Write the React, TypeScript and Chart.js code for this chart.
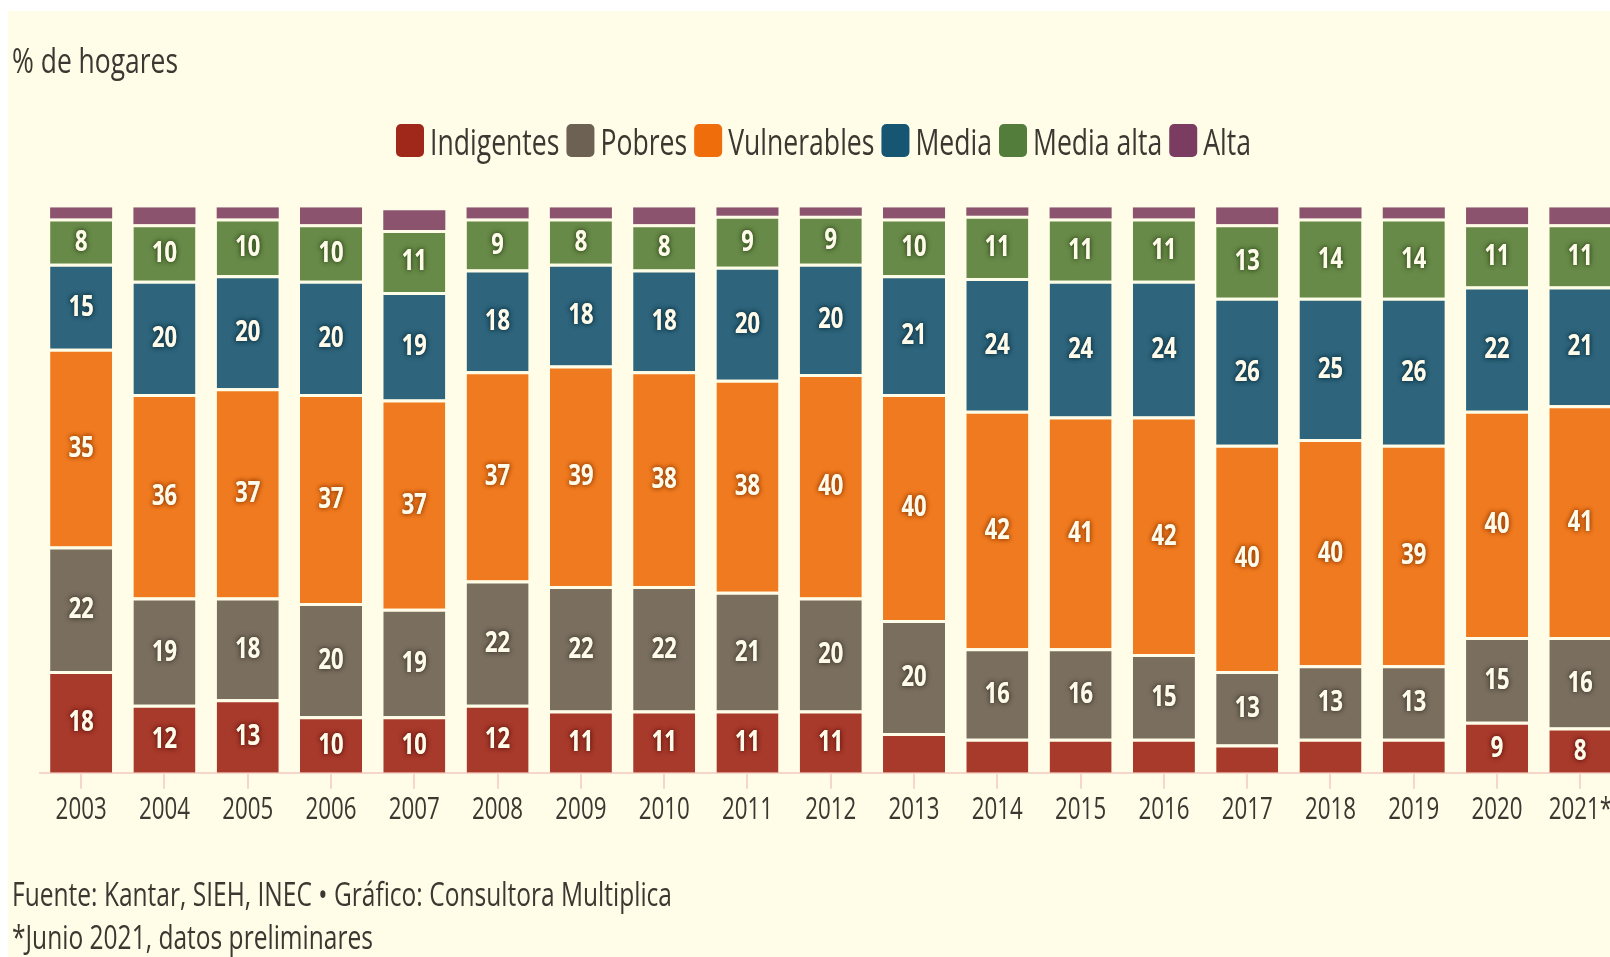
import React, { useEffect, useRef } from 'react';
import { Chart, registerables } from 'chart.js';

Chart.register(...registerables);

// ---------- data ----------
const years = ['2003', '2004', '2005', '2006', '2007', '2008', '2009', '2010', '2011', '2012', '2013', '2014', '2015', '2016', '2017', '2018', '2019', '2020', '2021*'];
const indigentes = [18, 12, 13, 10, 10, 12, 11, 11, 11, 11, 7, 6, 6, 6, 5, 6, 6, 9, 8];
const pobres = [22, 19, 18, 20, 19, 22, 22, 22, 21, 20, 20, 16, 16, 15, 13, 13, 13, 15, 16];
const vulnerables = [35, 36, 37, 37, 37, 37, 39, 38, 37.5, 39.5, 40, 42, 41, 42, 40, 40, 39, 40, 41];
const media = [15, 20, 20, 20, 19, 18, 18, 18, 20, 19.5, 21, 23.5, 24, 24, 26, 25, 26, 22, 21];
const mediaAlta = [8, 10, 10, 10, 11, 9, 8, 8, 9, 8.5, 10, 11, 11, 11, 13, 14, 14, 11, 11];
const alta = [2, 3, 2, 3, 3.5, 2, 2, 3, 1.5, 1.5, 2, 1.5, 2, 2, 3, 2, 2, 3, 3];

const seriesNames = ['Indigentes', 'Pobres', 'Vulnerables', 'Media', 'Media alta', 'Alta'];
const seriesData = [indigentes, pobres, vulnerables, media, mediaAlta, alta];

const titleText = '% de hogares';
const footerLines = [
  'Fuente: Kantar, SIEH, INEC \u2022 Gr\u00e1fico: Consultora Multiplica',
  '*Junio 2021, datos preliminares',
];

// ---------- styles ----------
const BG = '#fffde7';
const FONT = '"Open Sans", "Noto Sans", sans-serif';
const TEXT = '#3b3731';
const barColors = ['#a83a2c', '#7a6f5f', '#f07a1f', '#2e657c', '#688a49', '#8b536e'];
const legendColors = ['#a0281b', '#6c6152', '#ef6d0b', '#175673', '#527d3b', '#7b3c62'];
const haloColors = ['#6a1a10', '#463e34', '#9c4306', '#0f3546', '#36521f', '#4a2038'];
const AXIS = '#f6d6c9';

// horizontal text compression (condensed look)
let squeeze = 0.72;
let rawMeasure: ((t: string) => TextMetrics) | null = null;

function condense(ctx: any) {
  if (ctx.__condensed) return;
  ctx.__condensed = true;
  const fill = ctx.fillText.bind(ctx);
  const stroke = ctx.strokeText.bind(ctx);
  const measure = ctx.measureText.bind(ctx);
  rawMeasure = measure;
  ctx.fillText = (t: string, x: number, y: number, mw?: number) => {
    ctx.save();
    ctx.translate(x, y);
    ctx.scale(squeeze, 1);
    if (mw === undefined || mw === null) fill(t, 0, 0);
    else fill(t, 0, 0, mw / squeeze);
    ctx.restore();
  };
  ctx.strokeText = (t: string, x: number, y: number, mw?: number) => {
    ctx.save();
    ctx.translate(x, y);
    ctx.scale(squeeze, 1);
    if (mw === undefined || mw === null) stroke(t, 0, 0);
    else stroke(t, 0, 0, mw / squeeze);
    ctx.restore();
  };
  ctx.measureText = (t: string) => {
    const m = measure(t);
    return {
      width: m.width * squeeze,
      actualBoundingBoxAscent: m.actualBoundingBoxAscent,
      actualBoundingBoxDescent: m.actualBoundingBoxDescent,
      actualBoundingBoxLeft: m.actualBoundingBoxLeft * squeeze,
      actualBoundingBoxRight: m.actualBoundingBoxRight * squeeze,
      fontBoundingBoxAscent: m.fontBoundingBoxAscent,
      fontBoundingBoxDescent: m.fontBoundingBoxDescent,
    };
  };
}

function natural(ctx: CanvasRenderingContext2D, t: string) {
  return rawMeasure ? rawMeasure(t).width : ctx.measureText(t).width / squeeze;
}

const decorPlugin = {
  id: 'decor',
  afterDatasetsDraw(chart: any) {
    const ctx = chart.ctx;
    ctx.save();
    ctx.font = `bold 28px ${FONT}`;
    ctx.textAlign = 'center';
    ctx.textBaseline = 'middle';
    squeeze = 0.78;
    for (let i = 0; i < 5; i++) {
      const meta = chart.getDatasetMeta(i);
      meta.data.forEach((bar: any, j: number) => {
        const v = seriesData[i][j];
        if (v < 7.5) return;
        const yc = (bar.y + 3 + bar.base) / 2;
        ctx.shadowColor = haloColors[i];
        ctx.shadowBlur = 5;
        ctx.fillStyle = '#fffbea';
        ctx.fillText(String(Math.round(v)), bar.x, yc);
        ctx.fillText(String(Math.round(v)), bar.x, yc);
      });
    }
    squeeze = 0.72;
    ctx.restore();
  },
  afterDraw(chart: any) {
    const ctx = chart.ctx;
    ctx.save();
    ctx.textAlign = 'left';
    ctx.textBaseline = 'alphabetic';
    ctx.fillStyle = TEXT;

    // title
    ctx.font = `35px ${FONT}`;
    squeeze = 166 / natural(ctx, titleText);
    ctx.fillText(titleText, 4, 62);

    // legend
    ctx.font = `36px ${FONT}`;
    const nats = seriesNames.map((n) => natural(ctx, n));
    const total = nats.reduce((a, b) => a + b, 0);
    squeeze = 616 / total;
    let x = 388;
    seriesNames.forEach((name, i) => {
      ctx.fillStyle = legendColors[i];
      ctx.beginPath();
      if (ctx.roundRect) ctx.roundRect(x, 113, 28, 33, 5);
      else ctx.rect(x, 113, 28, 33);
      ctx.fill();
      x += 34;
      ctx.fillStyle = TEXT;
      ctx.fillText(name, x, 144);
      x += nats[i] * squeeze + 7;
    });

    // footer
    ctx.font = `33px ${FONT}`;
    ctx.fillStyle = TEXT;
    squeeze = 660 / natural(ctx, footerLines[0]);
    ctx.fillText(footerLines[0], 4, 895);
    ctx.fillText(footerLines[1], 4, 938);

    squeeze = 0.72;
    ctx.restore();
  },
};

export default function App() {
  const ref = useRef<HTMLCanvasElement>(null);
  useEffect(() => {
    const canvas = ref.current!;
    const ctx = canvas.getContext('2d');
    condense(ctx);
    squeeze = 0.72;
    const chart = new Chart(canvas, {
      type: 'bar',
      data: {
        labels: years,
        datasets: seriesNames.map((name, i) => ({
          label: name,
          data: seriesData[i],
          backgroundColor: barColors[i],
          borderColor: BG,
          borderWidth: i === 5 ? 0 : { top: 3, left: 0, right: 0, bottom: 0 },
          borderSkipped: false,
          barPercentage: 0.745,
          categoryPercentage: 1,
        })),
      },
      options: {
        responsive: false,
        maintainAspectRatio: false,
        animation: false,
        layout: { padding: { left: 31.5, right: 18, top: 196.3, bottom: 124.3 } },
        plugins: {
          legend: { display: false },
          title: { display: false },
          tooltip: { enabled: false },
        },
        scales: {
          x: {
            stacked: true,
            offset: true,
            grid: {
              display: true,
              drawOnChartArea: false,
              drawTicks: true,
              tickLength: 16,
              color: AXIS,
              lineWidth: 2,
              offset: false,
            },
            border: { display: true, color: AXIS, width: 2 },
            ticks: {
              color: TEXT,
              font: { family: FONT, size: 31 },
              padding: 3,
              maxRotation: 0,
              minRotation: 0,
              autoSkip: false,
            },
            afterFit: (s: any) => {
              s.height = 60;
            },
          },
          y: { stacked: true, display: false, min: 0, max: 100 },
        },
      },
      plugins: [decorPlugin],
    } as any);
    return () => chart.destroy();
  }, []);

  return (
    <div
      style={{
        position: 'absolute',
        left: 8,
        top: 11,
        width: 1602,
        height: 946,
        overflow: 'hidden',
        background: BG,
      }}
    >
      <canvas ref={ref} width={1632} height={946} style={{ width: 1632, height: 946, display: 'block' }} />
    </div>
  );
}
